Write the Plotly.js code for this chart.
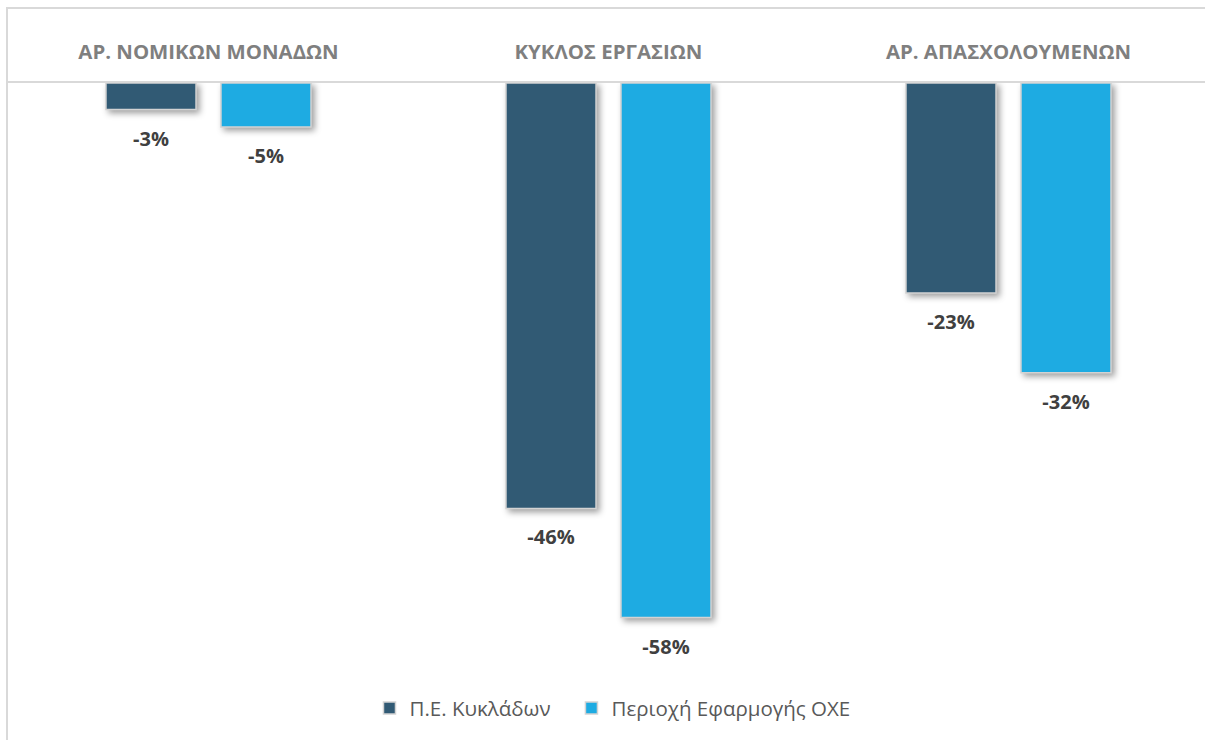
<!DOCTYPE html>
<html>
<head>
<meta charset="utf-8">
<script src="https://cdn.plot.ly/plotly-3.0.1.min.js"></script>
<style>
html,body{margin:0;padding:0;background:#fff;}
#wrap{position:relative;width:1205px;height:740px;overflow:hidden;}
#chart{position:absolute;left:0;top:0;width:1205px;height:740px;}
#frame{position:absolute;left:6px;top:7px;width:1300px;height:900px;border:2px solid #d9d9d9;pointer-events:none;box-sizing:border-box;}
.barlayer .point path{filter:drop-shadow(3px 3px 3px rgba(0,0,0,0.38));}
</style>
</head>
<body>
<div id="wrap">
<div id="chart"></div>
<div id="frame"></div>
</div>
<script>
const categories = ["ΑΡ. ΝΟΜΙΚΩΝ ΜΟΝΑΔΩΝ", "ΚΥΚΛΟΣ ΕΡΓΑΣΙΩΝ", "ΑΡ. ΑΠΑΣΧΟΛΟΥΜΕΝΩΝ"];
const seriesNames = ["Π.Ε. Κυκλάδων", "Περιοχή Εφαρμογής ΟΧΕ"];
const cycladesValues = [-0.029, -0.464, -0.229];
const oxeValues = [-0.048, -0.583, -0.316];
const seriesColors = ["#315a74", "#1eabe2"];

const font = "'Open Sans', 'Noto Sans', sans-serif";
const legendPad = '\u00a0\u00a0\u00a0';

function barTrace(name, values, color) {
  return {
    type: 'bar',
    name: name,
    x: categories,
    y: values,
    marker: {color: color, line: {color: '#d3d3d3', width: 1.5}},
    hoverinfo: 'skip'
  };
}

function labelTrace(name, values) {
  return {
    type: 'scatter',
    mode: 'markers+text',
    name: name + ' labels',
    x: categories,
    y: values,
    marker: {size: 32, color: 'rgba(0,0,0,0)'},
    text: values.map(v => Math.round(v * 100) + '%'),
    textposition: 'bottom center',
    textfont: {family: font, size: 20, color: '#404040', weight: 'bold'},
    cliponaxis: false,
    showlegend: false,
    hoverinfo: 'skip'
  };
}

const data = [
  barTrace(seriesNames[0] + legendPad, cycladesValues, seriesColors[0]),
  barTrace(seriesNames[1], oxeValues, seriesColors[1]),
  labelTrace(seriesNames[0], cycladesValues),
  labelTrace(seriesNames[1], oxeValues)
];

const layout = {
  width: 1205,
  height: 740,
  margin: {l: 8, r: 0, t: 83, b: 61, pad: 0},
  paper_bgcolor: 'rgba(0,0,0,0)',
  plot_bgcolor: 'rgba(0,0,0,0)',
  barmode: 'group',
  bargap: 0.425,
  bargroupgap: 0.217,
  scattermode: 'group',
  scattergap: 0.425,
  showlegend: true,
  legend: {
    orientation: 'h',
    x: 0.505, xanchor: 'center',
    y: -0.049, yanchor: 'middle',
    font: {family: font, size: 20.5, color: '#595959'},
    itemwidth: 30,
    tracegroupgap: 0
  },
  xaxis: {
    side: 'top',
    range: [-0.50125, 2.49125],
    showgrid: false,
    showline: true,
    linecolor: '#d9d9d9',
    linewidth: 2,
    ticks: '',
    ticklabelstandoff: 14,
    tickfont: {family: font, size: 20.4, color: '#7f7f7f', weight: 'bold'},
    fixedrange: true
  },
  yaxis: {
    range: [-0.65, 0],
    visible: false,
    showgrid: false,
    zeroline: false,
    fixedrange: true
  }
};

Plotly.newPlot('chart', data, layout, {displayModeBar: false, staticPlot: true});
</script>
</body>
</html>
